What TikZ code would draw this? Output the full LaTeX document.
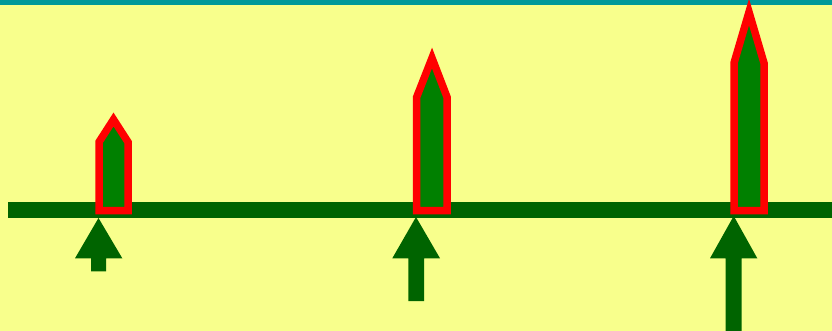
\documentclass[tikz,border=0pt]{standalone}
\definecolor{bgyellow}{RGB}{248,255,140}
\definecolor{bandteal}{RGB}{0,153,153}
\definecolor{darkgr}{RGB}{0,100,0}
\definecolor{fillgr}{RGB}{0,128,0}
\definecolor{pure red}{RGB}{255,0,0}
\tikzset{
  spike/.style={draw=pure red, fill=fillgr, line width=7.5pt, miter limit=20},
  uparrow/.style={fill=darkgr, draw=none},
  baseline/.style={draw=darkgr, line width=16pt}
}
\begin{document}
\begin{tikzpicture}[x=1pt,y=-1pt]
\useasboundingbox (0,0) rectangle (832,331);
\fill[bgyellow] (0,0) rectangle (832,331);
\fill[bandteal] (0,0) rectangle (832,5);
% axis line
\coordinate (L) at (8,210);
\coordinate (R) at (832,210);
\draw[baseline] (L) -- (R);
% spikes
\draw[spike] (99,210.5) -- (99,142) -- (113.5,119.5) -- (128,142) -- (128,210.5) -- cycle;
\draw[spike] (416.7,210.5) -- (416.7,97) -- (432,58) -- (447,97) -- (447,210.5) -- cycle;
\draw[spike] (734,210.5) -- (734,63) -- (749,12) -- (764,63) -- (764,210.5) -- cycle;
% up arrows
\fill[uparrow] (98.5,218) -- (122.3,258.3) -- (106,258.3) -- (106,271.3) -- (91,271.3) -- (91,258.3) -- (75,258.3) -- cycle;
\fill[uparrow] (416,217) -- (440,258.3) -- (424,258.3) -- (424,301) -- (408.3,301) -- (408.3,258.3) -- (392.3,258.3) -- cycle;
\fill[uparrow] (733.7,216) -- (757.3,258.3) -- (741.7,258.3) -- (741.7,331) -- (725.7,331) -- (725.7,258.3) -- (710,258.3) -- cycle;
\end{tikzpicture}
\end{document}
